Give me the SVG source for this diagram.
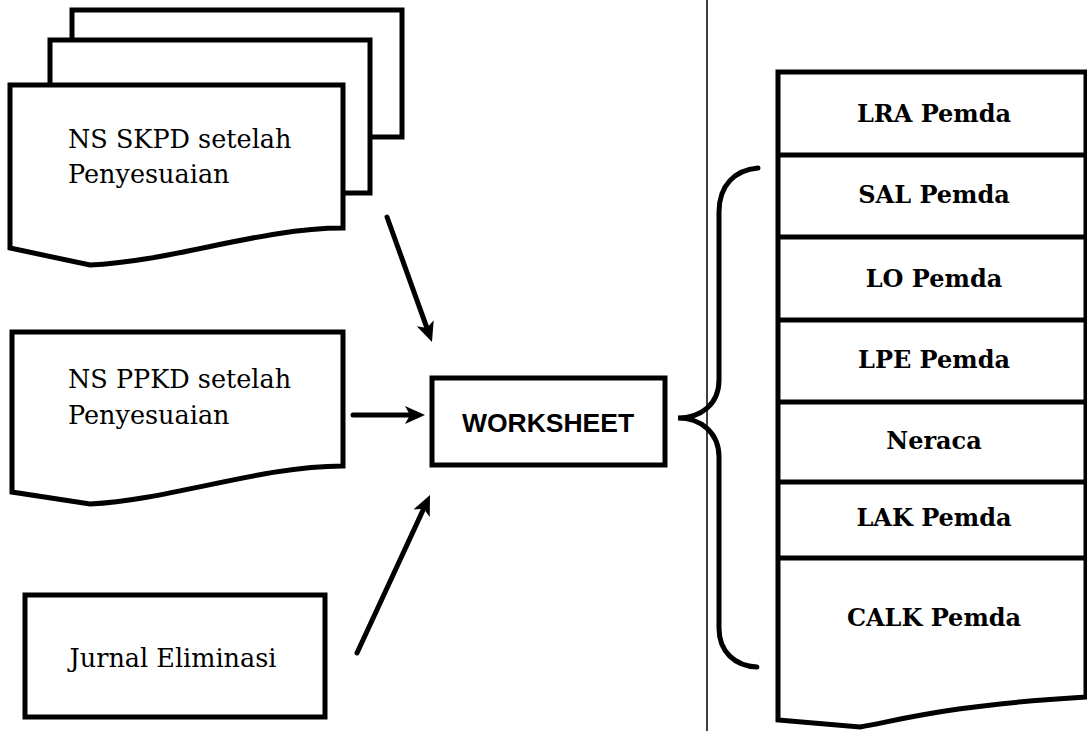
<svg xmlns="http://www.w3.org/2000/svg" width="1087" height="731" viewBox="0 0 1087 731">
<defs>
<style>
.shape{fill:#fff;stroke:#000;stroke-width:5;stroke-linejoin:miter}
.div{stroke:#000;stroke-width:5}
.conn{fill:none;stroke:#000;stroke-width:5;stroke-linecap:round}
.lbl{font-family:"DejaVu Serif","Liberation Serif",serif;font-size:25.5px;fill:#000}
.rl{font-family:"DejaVu Serif","Liberation Serif",serif;font-size:24px;font-weight:bold;fill:#000;text-anchor:middle}
.ws{font-family:"Liberation Sans",Arial,sans-serif;font-size:26.5px;font-weight:bold;fill:#000;text-anchor:middle}
</style>
<marker id="ah" markerUnits="userSpaceOnUse" markerWidth="22" markerHeight="22" viewBox="0 0 22 22" refX="10" refY="11" orient="auto">
<path d="M0,2 L20,11 L0,20 L5,11 Z" fill="#000"/>
</marker>
</defs>
<rect width="1087" height="731" fill="#fff"/>
<line x1="707" y1="0" x2="707" y2="731" stroke="#000" stroke-width="1.5"/>

<g id="node-skpd">
<rect class="shape" x="72" y="10" width="330" height="127"/>
<rect class="shape" x="50" y="40" width="320" height="153"/>
<path class="shape" d="M10,85 H343 V228 C260,228 170,262 90,265 L10,248 Z"/>
<text class="lbl" x="68" y="148">NS SKPD setelah</text>
<text class="lbl" x="68" y="183">Penyesuaian</text>
</g>

<g id="node-ppkd">
<path class="shape" d="M12,332 H343 V466 C260,466 170,500 90,504 L12,492 Z"/>
<text class="lbl" x="68" y="388">NS PPKD setelah</text>
<text class="lbl" x="68" y="424">Penyesuaian</text>
</g>

<g id="node-jurnal">
<rect class="shape" x="25" y="595" width="300" height="122"/>
<text class="lbl" x="173" y="667" text-anchor="middle">Jurnal Eliminasi</text>
</g>

<g id="node-worksheet">
<rect class="shape" x="432" y="378" width="233" height="87"/>
<text class="ws" x="548" y="432">WORKSHEET</text>
</g>

<g id="node-reports">
<path class="shape" d="M778,72 H1086 V697 C950,705 900,720 860,727 L778,720 Z"/>
<line class="div" x1="778" y1="155" x2="1087" y2="155"/>
<line class="div" x1="778" y1="237" x2="1087" y2="237"/>
<line class="div" x1="778" y1="320" x2="1087" y2="320"/>
<line class="div" x1="778" y1="402" x2="1087" y2="402"/>
<line class="div" x1="778" y1="482" x2="1087" y2="482"/>
<line class="div" x1="778" y1="558" x2="1087" y2="558"/>
<text class="rl" x="934" y="122">LRA Pemda</text>
<text class="rl" x="934" y="203">SAL Pemda</text>
<text class="rl" x="934" y="287">LO Pemda</text>
<text class="rl" x="934" y="368">LPE Pemda</text>
<text class="rl" x="934" y="449">Neraca</text>
<text class="rl" x="934" y="526">LAK Pemda</text>
<text class="rl" x="934" y="626">CALK Pemda</text>
</g>

<g id="connectors">
<line class="conn" x1="387" y1="217" x2="428.6" y2="332.6" marker-end="url(#ah)"/>
<line class="conn" x1="353" y1="415" x2="415" y2="415" marker-end="url(#ah)"/>
<line class="conn" x1="357" y1="653" x2="425.8" y2="504.1" marker-end="url(#ah)"/>
<path class="conn" d="M758,168 C735,170 719,185 719,212 V380 C719,405 700,418 678,418 C700,418 719,432 719,457 V628 C719,652 735,666 757,667"/>
</g>
</svg>
